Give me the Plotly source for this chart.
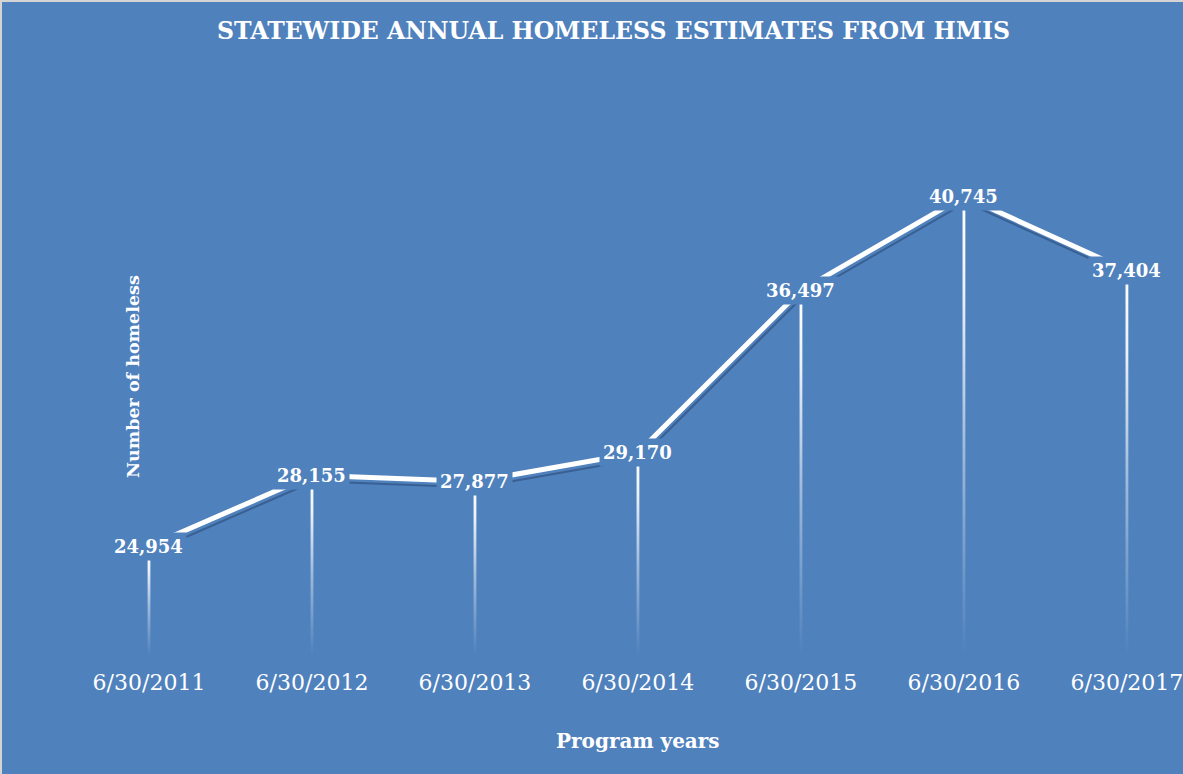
import plotly.graph_objects as go

# ---- data ----
dates = ["6/30/2011", "6/30/2012", "6/30/2013", "6/30/2014",
         "6/30/2015", "6/30/2016", "6/30/2017"]
homeless = [24954, 28155, 27877, 29170, 36497, 40745, 37404]

title_text = "STATEWIDE ANNUAL HOMELESS ESTIMATES FROM HMIS"
x_title = "Program years"
y_title = "Number of homeless"

# ---- style / geometry ----
W, H = 1183, 774
ML, MR, MT, MB = 67, 0, 102, 118
BG = "#4F81BD"
Y_RANGE = [20000, 45000]
X_RANGE = [-0.503, 6.344]
plot_w = W - ML - MR
plot_h = H - MT - MB
px_per_x = plot_w / (X_RANGE[1] - X_RANGE[0])
px_per_y = plot_h / (Y_RANGE[1] - Y_RANGE[0])

xs = list(range(len(dates)))

fig = go.Figure()

# drop lines with fading gradient
half_w = 1.4 / px_per_x
for i, v in zip(xs, homeless):
    fig.add_trace(go.Scatter(
        x=[i - half_w, i + half_w, i + half_w, i - half_w, i - half_w],
        y=[Y_RANGE[0], Y_RANGE[0], v, v, Y_RANGE[0]],
        mode="lines", line=dict(width=0, color="rgba(0,0,0,0)"),
        fill="toself",
        fillgradient=dict(type="vertical",
                          colorscale=[[0, "rgba(255,255,255,0)"],
                                      [0.45, "rgba(255,255,255,0.45)"],
                                      [0.8, "rgba(255,255,255,0.9)"],
                                      [1, "rgba(255,255,255,1)"]]),
        hoverinfo="skip", showlegend=False))

# shadow line (overlay axes shifted by a few pixels)
sx = 2 / px_per_x
sy = 6 / px_per_y
fig.add_trace(go.Scatter(
    x=xs, y=homeless, xaxis="x2", yaxis="y2", mode="lines",
    line=dict(color="rgba(30,55,95,0.45)", width=2),
    hoverinfo="skip", showlegend=False))

# main line
fig.add_trace(go.Scatter(
    x=xs, y=homeless, mode="lines",
    line=dict(color="white", width=5),
    showlegend=False))

# data labels with boxes in background colour (hide line under labels)
annotations = []
for i, v in zip(xs, homeless):
    annotations.append(dict(
        x=i, y=v, xref="x", yref="y", text=f"{v:,}", showarrow=False,
        xanchor="center", yanchor="middle", bgcolor=BG, borderpad=3,
        font=dict(family="DejaVu Serif", size=18, color="white",
                  weight="bold")))

# axis titles
annotations.append(dict(
    text=f"<b>{x_title}</b>", showarrow=False, xref="paper", yref="paper",
    x=(638 - ML) / plot_w, y=(MT + plot_h - 741) / plot_h,
    xanchor="center", yanchor="middle",
    font=dict(family="DejaVu Serif", size=20, color="white")))
annotations.append(dict(
    text=f"<b>{y_title}</b>", showarrow=False, xref="paper", yref="paper",
    x=(133 - ML) / plot_w, y=(MT + plot_h - 377) / plot_h, textangle=-90,
    xanchor="center", yanchor="middle",
    font=dict(family="DejaVu Serif", size=17.5, color="white")))

# light border on top/left edges
shapes = [
    dict(type="line", xref="paper", yref="paper",
         x0=(0 - ML) / plot_w, x1=(0 - ML) / plot_w,
         y0=-MB / plot_h, y1=(MT + plot_h) / plot_h,
         line=dict(color="#D4D4D4", width=4)),
    dict(type="line", xref="paper", yref="paper",
         x0=(0 - ML) / plot_w, x1=1.0,
         y0=(MT + plot_h) / plot_h, y1=(MT + plot_h) / plot_h,
         line=dict(color="#D4D4D4", width=4)),
]

fig.update_layout(
    width=W, height=H,
    margin=dict(l=ML, r=MR, t=MT, b=MB),
    paper_bgcolor=BG, plot_bgcolor=BG,
    title=dict(text=title_text, xref="container", yref="container",
               x=613.5 / W, y=1 - 31 / H, xanchor="center", yanchor="middle",
               font=dict(family="DejaVu Serif", size=23.6, color="white",
                         weight="bold")),
    xaxis=dict(range=X_RANGE, tickvals=xs, ticktext=dates,
               showgrid=False, zeroline=False, showline=False,
               ticks="outside", ticklen=7, tickcolor="rgba(0,0,0,0)",
               ticklabeloverflow="allow",
               tickfont=dict(family="DejaVu Serif", size=22, color="white")),
    yaxis=dict(range=Y_RANGE, showgrid=False, zeroline=False,
               showline=False, showticklabels=False, ticks=""),
    xaxis2=dict(range=[X_RANGE[0] - sx, X_RANGE[1] - sx], overlaying="x",
                visible=False, anchor="y2"),
    yaxis2=dict(range=[Y_RANGE[0] + sy, Y_RANGE[1] + sy], overlaying="y",
                visible=False, anchor="x2"),
    annotations=annotations,
    shapes=shapes,
    showlegend=False,
)

fig.write_html("out.html",
               config={"displayModeBar": False},
               post_script="document.body.style.margin='0';"
                           "document.body.style.padding='0';")
